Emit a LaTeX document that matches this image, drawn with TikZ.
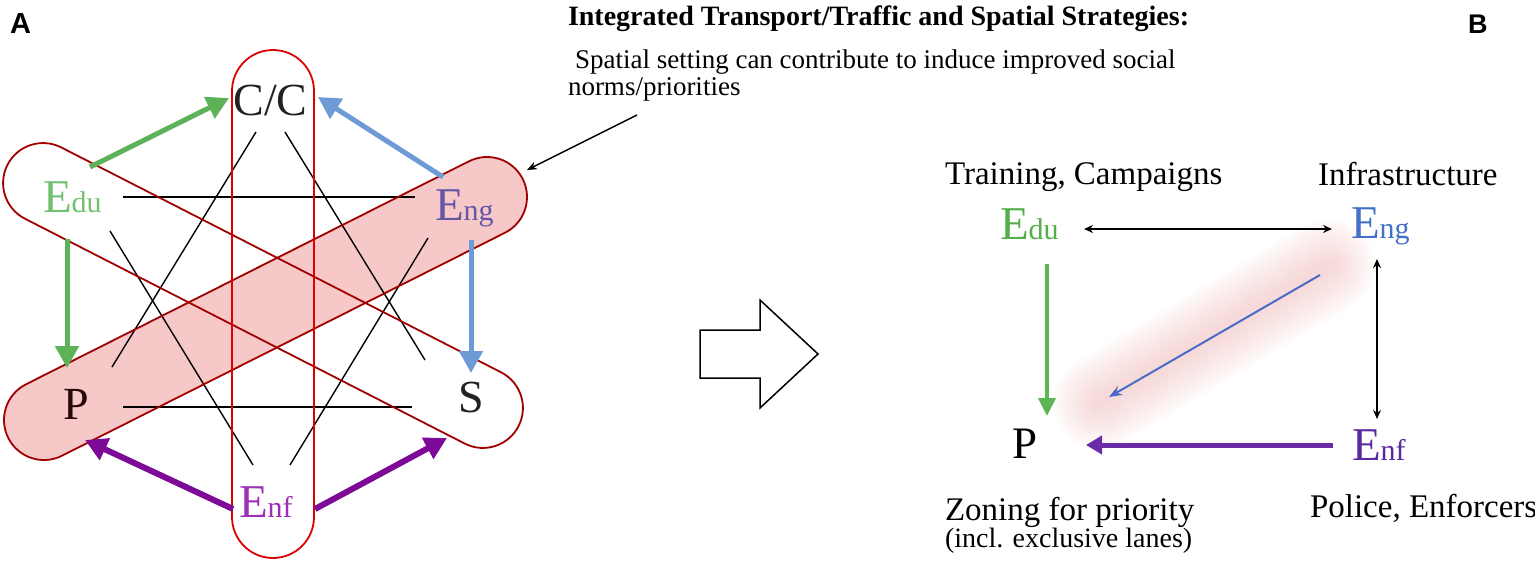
\documentclass[tikz,border=0pt]{standalone}
\usepackage{fontspec}
\setmainfont{Liberation Serif}
\newfontfamily\labsans{Liberation Sans}
\usetikzlibrary{arrows.meta}
\newcommand\myfs[1]{\fontsize{#1}{#1}\selectfont}
\definecolor{capred}{HTML}{E00000}
\definecolor{capdark}{HTML}{A00000}
\definecolor{pinkfill}{HTML}{F6C8C8}
\definecolor{edutxt}{HTML}{72C072}
\definecolor{grarrow}{HTML}{5DB257}
\definecolor{blarrow}{HTML}{6E9BD5}
\definecolor{engtxt}{HTML}{6656A6}
\definecolor{purarrow}{HTML}{7D0A96}
\definecolor{enftxt}{HTML}{9B2FB5}
\definecolor{ptxt}{HTML}{2A0808}
\definecolor{cctxt}{HTML}{222222}
\definecolor{eduR}{HTML}{52AE48}
\definecolor{grR}{HTML}{5BB553}
\definecolor{engR}{HTML}{4470C8}
\definecolor{blR}{HTML}{4A6CC8}
\definecolor{purR}{HTML}{6A2CA6}
\definecolor{enfR}{HTML}{5A2A9E}
\definecolor{glow}{HTML}{EBA8A8}
\begin{document}
\begin{tikzpicture}[x=1pt,y=-1pt,
  lab/.style={anchor=base west, inner sep=0pt, outer sep=0pt},
  capsule/.style={draw, rounded corners=#1, inner sep=0pt, outer sep=0pt, line width=1.8pt},
  thinline/.style={draw=black, line width=1.4pt},
  fatarrow/.style={line width=5pt, -{Triangle[length=22pt,width=23pt]}},
  smallarrow/.style={line width=1.5pt, {Stealth[length=9pt,width=8pt]}-{Stealth[length=9pt,width=8pt]}},
]
\useasboundingbox (0,0) rectangle (1535,560);
% ---------- Panel A ----------
\node[capsule=40pt, draw=none, fill=pinkfill, minimum width=576pt, minimum height=80pt, rotate=26.72] (capPEfill) at (265.5,308.5) {};
\coordinate (a1) at (123,197); \coordinate (a2) at (415,197);
\coordinate (b1) at (123,407); \coordinate (b2) at (412,407);
\coordinate (c1) at (256,132); \coordinate (c2) at (112,367);
\coordinate (d1) at (285,132); \coordinate (d2) at (425,360);
\coordinate (e1) at (110,231); \coordinate (e2) at (253,465);
\coordinate (f1) at (428,238); \coordinate (f2) at (290,465);
\draw[thinline] (a1) -- (a2);
\draw[thinline] (b1) -- (b2);
\draw[thinline] (c1) -- (c2);
\draw[thinline] (d1) -- (d2);
\draw[thinline] (e1) -- (e2);
\draw[thinline] (f1) -- (f2);
\node[capsule=40pt, draw=capdark, minimum width=574pt, minimum height=80pt, rotate=-27.08] (capES) at (263,295.5) {};
\node[capsule=40pt, draw=capdark, minimum width=576pt, minimum height=80pt, rotate=26.72] (capPE) at (265.5,308.5) {};
\node[capsule=41pt, draw=capred, minimum width=82pt, minimum height=508pt] (capV) at (273,304) {};
\node[lab] (A) at (10,33) {\labsans\bfseries\myfs{29}A};
\node[anchor=base, inner sep=0pt] (CC) at (270.5,115) {\myfs{46}\color{cctxt}C/C};
\node[lab] (Edu) at (43,212) {\color{edutxt}\myfs{47}E\myfs{30}du};
\node[lab] (Eng) at (435,220) {\color{engtxt}\myfs{47}E\myfs{30}ng};
\node[lab] (P) at (63,419) {\color{ptxt}\myfs{46}P};
\node[lab] (S) at (458,412) {\color{cctxt}\myfs{46}S};
\node[lab] (Enf) at (239,517) {\color{enftxt}\myfs{47}E\myfs{30}nf};
\coordinate (g1s) at (90,167); \coordinate (g1e) at (229,98);
\coordinate (g2s) at (67,239); \coordinate (g2e) at (67,368);
\coordinate (h1s) at (443,177); \coordinate (h1e) at (318,97);
\coordinate (h2s) at (471,240); \coordinate (h2e) at (471,373);
\coordinate (p1s) at (233,509); \coordinate (p1e) at (85,440);
\coordinate (p2s) at (315,509); \coordinate (p2e) at (447,438);
\draw[fatarrow, draw=grarrow, color=grarrow] (g1s) -- (g1e);
\draw[fatarrow, draw=grarrow, color=grarrow] (g2s) -- (g2e);
\draw[fatarrow, draw=blarrow, color=blarrow] (h1s) -- (h1e);
\draw[fatarrow, draw=blarrow, color=blarrow] (h2s) -- (h2e);
\draw[fatarrow, line width=6pt, draw=purarrow, color=purarrow] (p1s) -- (p1e);
\draw[fatarrow, line width=6pt, draw=purarrow, color=purarrow] (p2s) -- (p2e);
% ---------- annotation ----------
\node[lab] (title) at (568,25) {\myfs{28}\bfseries Integrated Transport/Traffic and Spatial Strategies:};
\node[lab] (sub1) at (575,68) {\myfs{27}Spatial setting can contribute to induce improved social};
\node[lab] (sub2) at (568,95) {\myfs{27}norms/priorities};
\coordinate (ann1) at (637,115); \coordinate (ann2) at (527,170);
\draw[line width=1.5pt, -{Stealth[length=10pt,width=8pt]}] (ann1) -- (ann2);
% ---------- block arrow ----------
\draw[line width=1.5pt, fill=white] (700,330) -- (760,330) -- (760,300) -- (818,354) -- (760,408) -- (760,378) -- (700,378) -- cycle;
% ---------- Panel B ----------
\node[lab] (B) at (1468,33) {\labsans\bfseries\myfs{27}B};
\coordinate (gl1) at (1100,402); \coordinate (gl2) at (1328,266);
\foreach \i [evaluate=\i as \w using 100-5*\i] in {1,...,18}
  \draw[line cap=round, line width=\w pt, draw=glow, draw opacity=0.03] (gl1) -- (gl2);
\node[lab] (tc) at (945,184) {\myfs{33}Training, Campaigns};
\node[lab] (inf) at (1318,185) {\myfs{33}Infrastructure};
\node[lab] (EduR) at (1000,239) {\color{eduR}\myfs{47}E\myfs{30}du};
\node[lab] (EngR) at (1351,238) {\color{engR}\myfs{47}E\myfs{30}ng};
\node[lab] (PR) at (1012,458) {\myfs{45}P};
\node[lab] (EnfR) at (1352,460) {\color{enfR}\myfs{47}E\myfs{30}nf};
\node[lab] (zon) at (945,520) {\myfs{33}Zoning for priority};
\node[lab] (incl) at (945,547) {\myfs{28}(incl. exclusive lanes)};
\node[lab] (pol) at (1310,517) {\myfs{33}Police, Enforcers};
\coordinate (r1a) at (1084,229); \coordinate (r1b) at (1332,229);
\coordinate (r2a) at (1377,259); \coordinate (r2b) at (1377,419);
\coordinate (r3a) at (1047,264); \coordinate (r3b) at (1047,416);
\coordinate (r4a) at (1333,445); \coordinate (r4b) at (1086,445);
\coordinate (r5a) at (1320,275); \coordinate (r5b) at (1109,397);
\draw[smallarrow] (r1a) -- (r1b);
\draw[smallarrow] (r2a) -- (r2b);
\draw[line width=4pt, draw=grR, color=grR, -{Triangle[length=18pt,width=17pt]}] (r3a) -- (r3b);
\draw[line width=5pt, draw=purR, color=purR, -{Triangle[length=16pt,width=18pt]}] (r4a) -- (r4b);
\draw[line width=2pt, draw=blR, color=blR, -{Stealth[length=13pt,width=10pt]}] (r5a) -- (r5b);
\end{tikzpicture}
\end{document}
